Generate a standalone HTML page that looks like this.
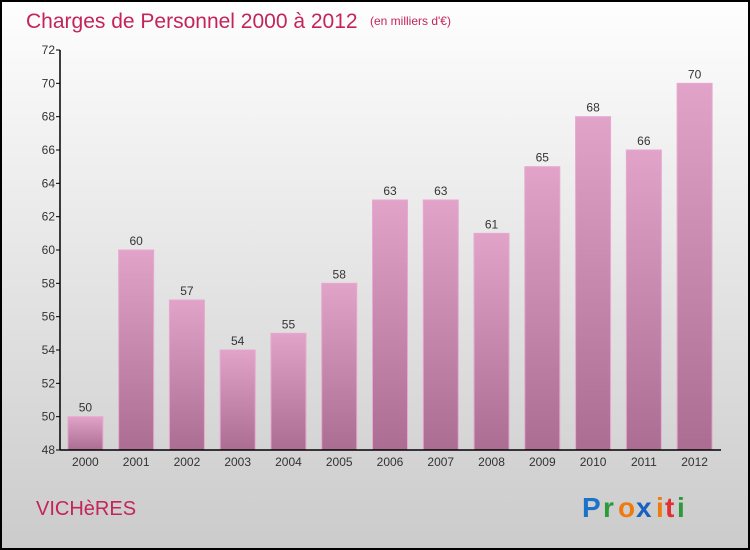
<!DOCTYPE html>
<html><head><meta charset="utf-8"><style>
body{margin:0;width:750px;height:550px;overflow:hidden}
svg{display:block;font-family:"Liberation Sans",sans-serif}
</style></head><body>
<svg width="750" height="550">
<defs>
<linearGradient id="bg" x1="0" y1="0" x2="0" y2="1"><stop offset="0" stop-color="#fefefe"/><stop offset="1" stop-color="#cbcbcb"/></linearGradient>
<linearGradient id="bar" x1="0" y1="0" x2="0" y2="1"><stop offset="0" stop-color="#e1a3c8"/><stop offset="1" stop-color="#ab6d92"/></linearGradient>
</defs>
<rect x="1" y="1" width="748" height="548" fill="url(#bg)" stroke="#000" stroke-width="2"/>
<text x="26" y="28" font-size="21" fill="#c4245a">Charges de Personnel 2000 à 2012</text>
<text x="370" y="25" font-size="12" fill="#c4245a">(en milliers d'€)</text>
<g id="plot"></g>
<text x="36" y="515" font-size="20" fill="#c4245a">VICHèRES</text>
<g font-size="28" font-weight="bold">
<text x="582" y="517" fill="#1a73c8">P</text><text x="603" y="517" fill="#2a9a3a">r</text><text x="618" y="517" fill="#f07a10">o</text><text x="636" y="517" fill="#1a60c0">x</text><text x="656" y="517" fill="#f07a10">i</text><text x="665" y="517" fill="#e03030">t</text><text x="677" y="517" fill="#2a9a3a">i</text>
</g>
</svg>
<script>
const categories=["2000","2001","2002","2003","2004","2005","2006","2007","2008","2009","2010","2011","2012"];
const values=[50,60,57,54,55,58,63,63,61,65,68,66,70];
const yTicks=[48,50,52,54,56,58,60,62,64,66,68,70,72];
const NS="http://www.w3.org/2000/svg";
const g=document.getElementById("plot");
const x0=60,x1=720,yTop=50,yBot=450,yMin=48,yMax=72;
const slot=(x1-x0)/categories.length;
const y=v=>yBot-(v-yMin)/(yMax-yMin)*(yBot-yTop);
const xc=i=>x0+slot*(i+0.5);
function mk(t,a){const e=document.createElementNS(NS,t);for(const k in a)e.setAttribute(k,a[k]);g.appendChild(e);return e;}
values.forEach((v,i)=>{
 const r=mk("rect",{x:xc(i)-17.5,y:y(v),width:35,height:yBot-y(v),fill:"url(#bar)",stroke:"#e8a8d0","stroke-width":1});
 
 
 const t=mk("text",{x:xc(i),y:y(v)-5,"text-anchor":"middle","font-size":12,fill:"#333"});
 t.textContent=v;
 
 
 const c=mk("text",{x:xc(i),y:466,"text-anchor":"middle","font-size":12,fill:"#333"});
 c.textContent=categories[i];
 
 
});
yTicks.forEach(v=>{
 const l=mk("line",{x1:x0-4,x2:x0,y1:y(v),y2:y(v),stroke:"#000"});
 
 
 const t=mk("text",{x:x0-5,y:y(v)+4,"text-anchor":"end","font-size":12,fill:"#333"});
 t.textContent=v;
 
 
});
const ya=mk("line",{x1:x0,x2:x0,y1:yTop,y2:yBot,stroke:"#000","stroke-width":1.5});


const xa=mk("line",{x1:x0,x2:x1+1,y1:yBot,y2:yBot,stroke:"#000","stroke-width":1.5});


</script>
</body></html>
